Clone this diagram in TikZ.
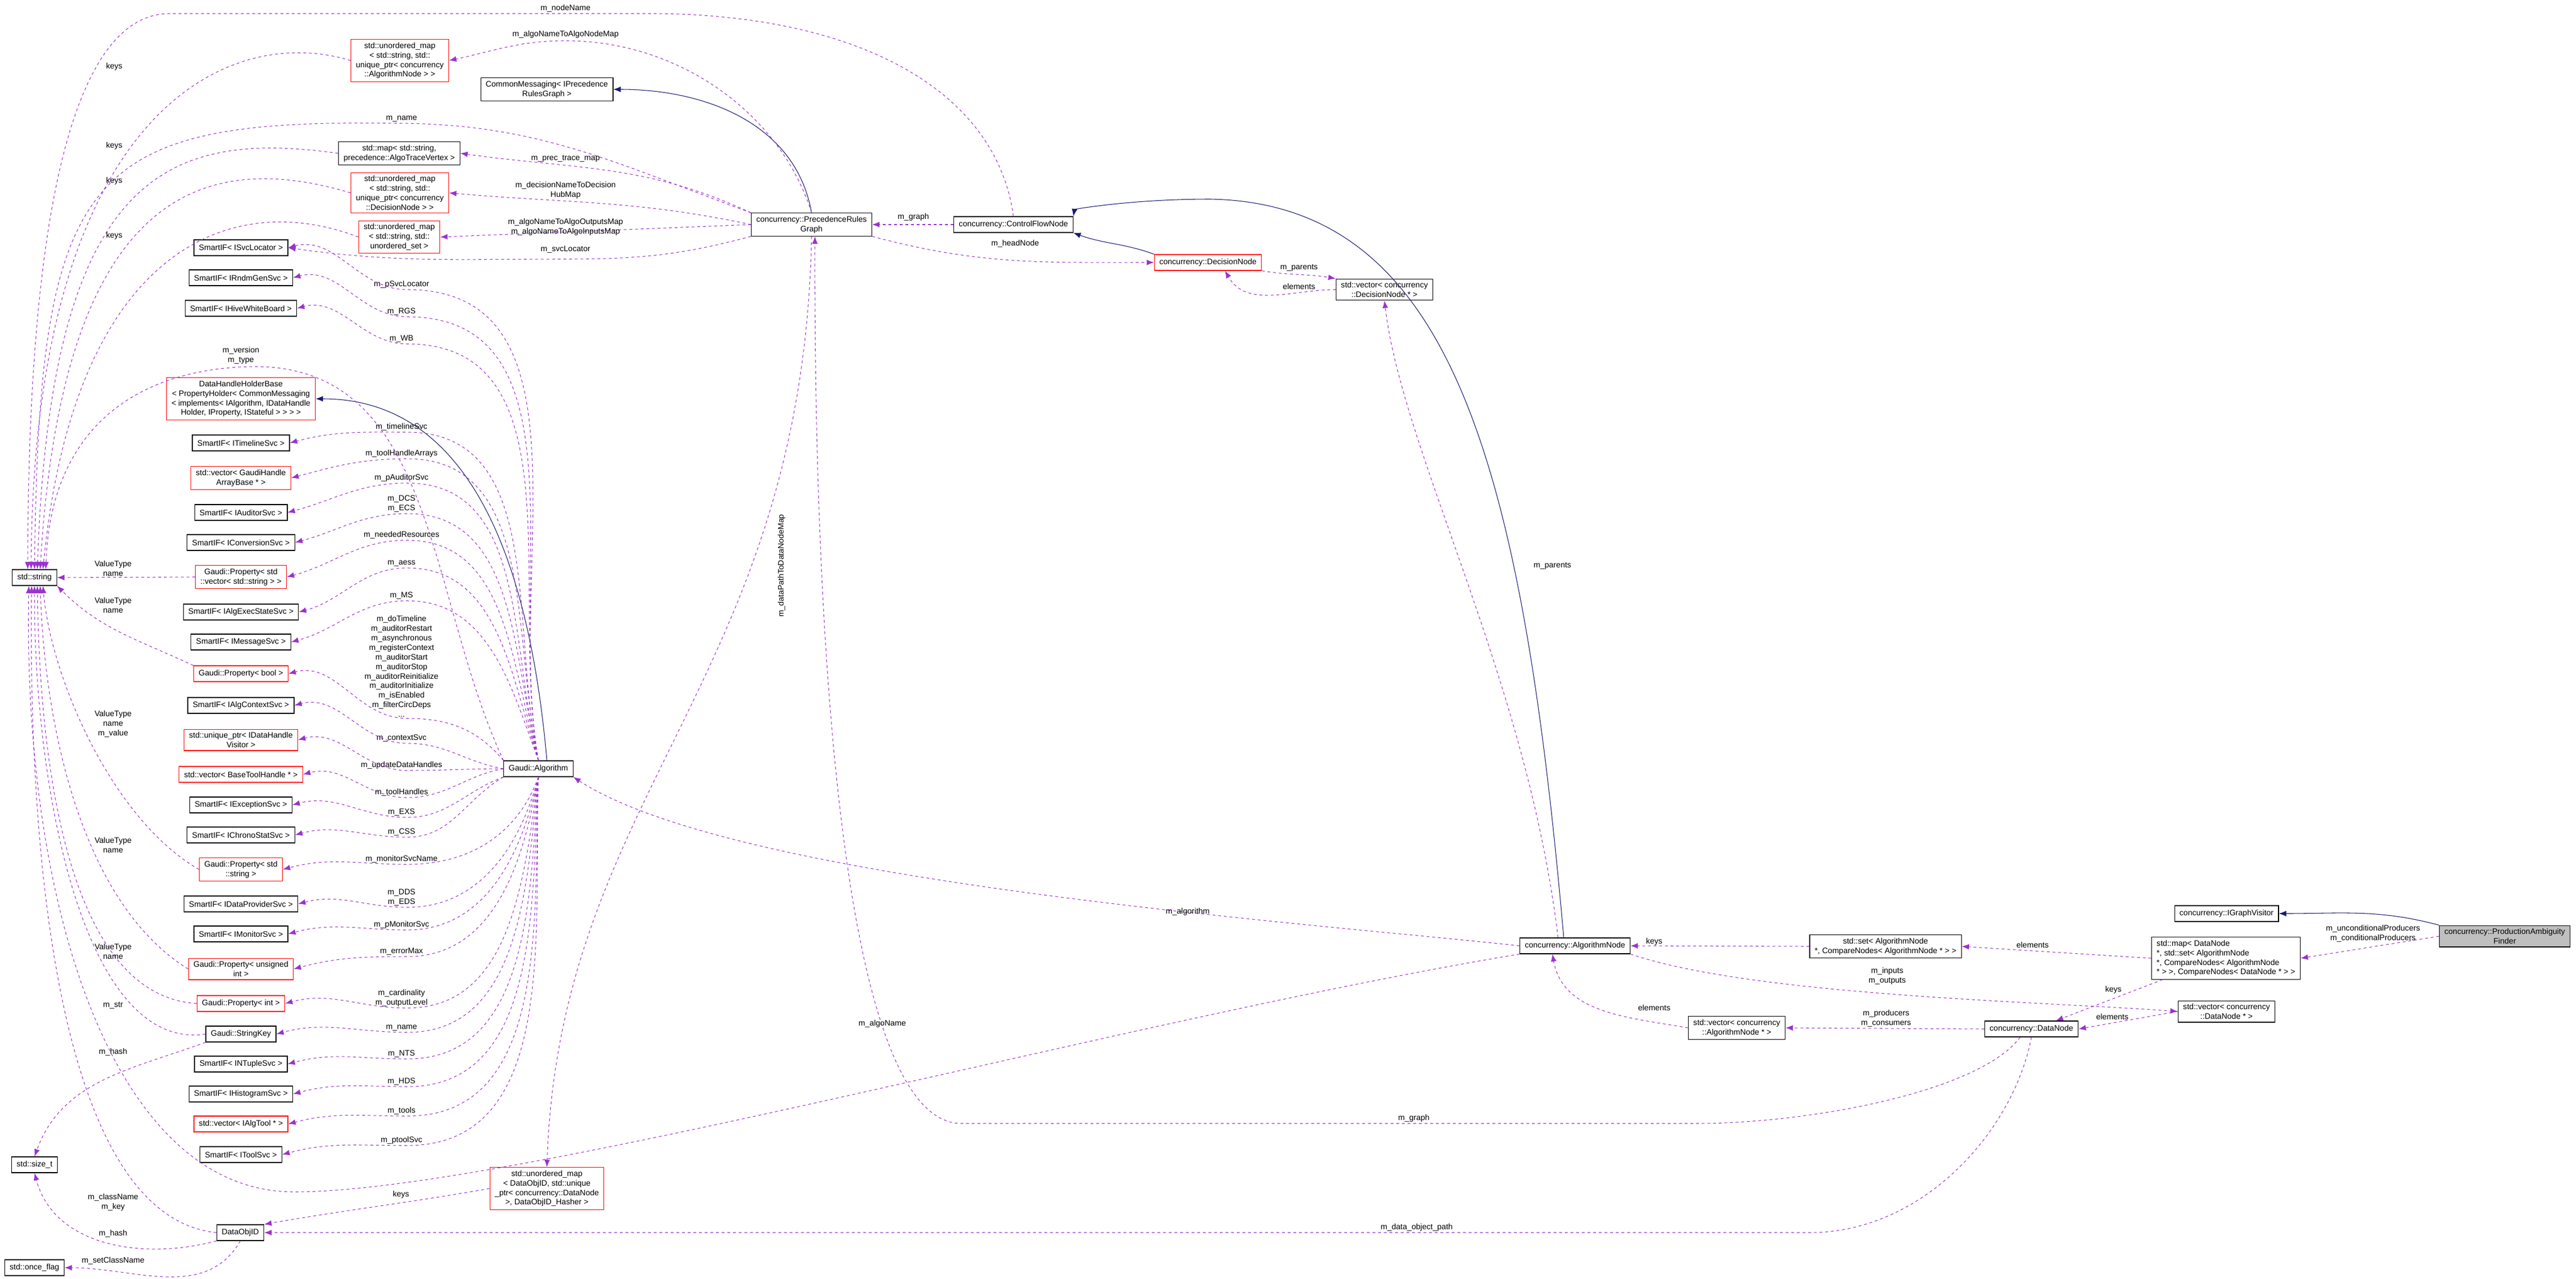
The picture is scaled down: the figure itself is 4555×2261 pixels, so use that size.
\documentclass[tikz,border=0pt]{standalone}
\usepackage{fontspec}
\setmainfont{Liberation Sans}
\usepackage{tikz}
\usetikzlibrary{positioning}
\usetikzlibrary{arrows.meta}
\usetikzlibrary{calc}
\definecolor{memcol}{RGB}{154,50,205}
\definecolor{inhcol}{RGB}{25,25,112}
\begin{document}
\begin{tikzpicture}[x=0.01cm,y=-0.01cm,font=\fontsize{4}{4.8}\selectfont]
\tikzset{cls/.style={rectangle,draw=black,line width=0.35pt,align=center,inner xsep=2.5pt,inner ysep=1.5pt,minimum height=0.28cm}}
\tikzset{clsred/.style={cls,draw=red}}
\tikzset{clsmain/.style={cls,fill=black!25}}
\tikzset{member/.style={draw=memcol,line width=0.3pt,dash pattern=on 0.05cm off 0.05cm,-{Latex[length=0.13cm,width=0.1cm]}}}
\tikzset{inherit/.style={draw=inhcol,line width=0.3pt,-{Latex[length=0.13cm,width=0.1cm]}}}
\tikzset{lbl/.style={inner sep=0.5pt,align=center}}
\useasboundingbox (0,0) rectangle (4555,2261);
% left column
\node[cls] (str) at (61,1021) {std::string};
\node[cls] (sizet) at (61,2059) {std::size\_t};
\node[cls] (oncef) at (61,2241) {std::once\_flag};
\node[cls] (objid) at (425,2179) {DataObjID};
% middle column
\node[clsred] (umapalgo) at (707,107) {std::unordered\_map\\\textless{} std::string, std::\\unique\_ptr\textless{} concurrency\\::AlgorithmNode \textgreater{} \textgreater};
\node[cls] (common) at (967,158) {CommonMessaging\textless{} IPrecedence\\RulesGraph \textgreater};
\node[cls] (maptrace) at (706,271) {std::map\textless{} std::string,\\precedence::AlgoTraceVertex \textgreater};
\node[clsred] (umapdec) at (707,341) {std::unordered\_map\\\textless{} std::string, std::\\unique\_ptr\textless{} concurrency\\::DecisionNode \textgreater{} \textgreater};
\node[clsred] (umapset) at (706,419) {std::unordered\_map\\\textless{} std::string, std::\\unordered\_set \textgreater};
\node[cls] (svcloc) at (426,438) {SmartIF\textless{} ISvcLocator \textgreater};
\node[cls] (rndm) at (426,491) {SmartIF\textless{} IRndmGenSvc \textgreater};
\node[cls] (hive) at (426,545) {SmartIF\textless{} IHiveWhiteBoard \textgreater};
\node[clsred] (dhhb) at (426,705) {DataHandleHolderBase\\\textless{} PropertyHolder\textless{} CommonMessaging\\\textless{} implements\textless{} IAlgorithm, IDataHandle\\Holder, IProperty, IStateful \textgreater{} \textgreater{} \textgreater{} \textgreater};
\node[cls] (timeline) at (426,783) {SmartIF\textless{} ITimelineSvc \textgreater};
\node[clsred] (gh) at (426,845) {std::vector\textless{} GaudiHandle\\ArrayBase * \textgreater};
\node[cls] (auditor) at (426,906) {SmartIF\textless{} IAuditorSvc \textgreater};
\node[cls] (conv) at (426,959) {SmartIF\textless{} IConversionSvc \textgreater};
\node[clsred] (pvs) at (426,1020) {Gaudi::Property\textless{} std\\::vector\textless{} std::string \textgreater{} \textgreater};
\node[cls] (aess) at (426,1082) {SmartIF\textless{} IAlgExecStateSvc \textgreater};
\node[cls] (msg) at (426,1135) {SmartIF\textless{} IMessageSvc \textgreater};
\node[clsred] (pbool) at (426,1191) {Gaudi::Property\textless{} bool \textgreater};
\node[cls] (algctx) at (426,1247) {SmartIF\textless{} IAlgContextSvc \textgreater};
\node[clsred] (udhv) at (426,1308) {std::unique\_ptr\textless{} IDataHandle\\Visitor \textgreater};
\node[clsred] (vbt) at (426,1369) {std::vector\textless{} BaseToolHandle * \textgreater};
\node[cls] (exc) at (426,1423) {SmartIF\textless{} IExceptionSvc \textgreater};
\node[cls] (chrono) at (426,1476) {SmartIF\textless{} IChronoStatSvc \textgreater};
\node[clsred] (pstr) at (426,1537) {Gaudi::Property\textless{} std\\::string \textgreater};
\node[cls] (dprov) at (426,1598) {SmartIF\textless{} IDataProviderSvc \textgreater};
\node[cls] (mon) at (426,1651) {SmartIF\textless{} IMonitorSvc \textgreater};
\node[clsred] (puint) at (426,1713) {Gaudi::Property\textless{} unsigned\\int \textgreater};
\node[clsred] (pint) at (426,1774) {Gaudi::Property\textless{} int \textgreater};
\node[cls] (skey) at (426,1828) {Gaudi::StringKey};
\node[cls] (ntuple) at (426,1881) {SmartIF\textless{} INTupleSvc \textgreater};
\node[cls] (hist) at (426,1934) {SmartIF\textless{} IHistogramSvc \textgreater};
\node[clsred] (vat) at (426,1987) {std::vector\textless{} IAlgTool * \textgreater};
\node[cls] (tsvc) at (426,2041) {SmartIF\textless{} IToolSvc \textgreater};
\node[cls] (alg) at (952,1359) {Gaudi::Algorithm};
\node[clsred] (umapdo) at (967,2101) {std::unordered\_map\\\textless{} DataObjID, std::unique\\\_ptr\textless{} concurrency::DataNode\\\textgreater, DataObjID\_Hasher \textgreater};
% upper right
\node[cls] (prec) at (1435,397) {concurrency::PrecedenceRules\\Graph};
\node[cls] (cfn) at (1792,397) {concurrency::ControlFlowNode};
\node[clsred] (decnode) at (2136,464) {concurrency::DecisionNode};
\node[cls] (vecdec) at (2448,512) {std::vector\textless{} concurrency\\::DecisionNode * \textgreater};
% lower right
\node[cls] (algnode) at (2785,1672) {concurrency::AlgorithmNode};
\node[cls] (setalg) at (3334,1673) {std::set\textless{} AlgorithmNode\\*, CompareNodes\textless{} AlgorithmNode * \textgreater{} \textgreater};
\node[cls,align=left] (mapdn) at (3936,1694) {std::map\textless{} DataNode\\*, std::set\textless{} AlgorithmNode\\*, CompareNodes\textless{} AlgorithmNode\\* \textgreater{} \textgreater, CompareNodes\textless{} DataNode * \textgreater{} \textgreater};
\node[cls] (igv) at (3937,1615) {concurrency::IGraphVisitor};
\node[clsmain] (paf) at (4429,1655) {concurrency::ProductionAmbiguity\\Finder};
\node[cls] (vecdn) at (3937,1788) {std::vector\textless{} concurrency\\::DataNode * \textgreater};
\node[cls] (vecalg) at (3071,1817) {std::vector\textless{} concurrency\\::AlgorithmNode * \textgreater};
\node[cls] (datanode) at (3592,1819) {concurrency::DataNode};
% inheritance
\draw[inherit] (prec.north) to[out=100,in=0] (common.east);
\draw[inherit] ($(alg.north)+(15,0)$) to[out=95,in=0] (dhhb.east);
\draw[inherit] (decnode.north west) to[out=160,in=-20] (cfn.south east);
\draw[inherit] ($(algnode.north)+(-20,0)$) .. controls (2690,800) and (2560,360) .. (2140,352) .. controls (2000,352) and (1900,370) .. (cfn.north east);
\draw[inherit] (paf.north west) to[out=165,in=0] (igv.east);
% Gaudi::Algorithm members
\foreach \t/\vy/\s/\o/\lab in {
  svcloc/512/north/100/{m\_pSvcLocator}, rndm/560/north/100/{m\_RGS}, hive/608/north/100/{m\_WB},
  timeline/764/north/102/{m\_timelineSvc}, gh/811/north/102/{m\_toolHandleArrays},
  auditor/854/north/104/{m\_pAuditorSvc}, conv/908/north/104/{m\_DCS\\m\_ECS},
  pvs/955/north/106/{m\_neededResources}, aess/1004/north/108/{m\_aess}, msg/1062/north/110/{m\_MS},
  pbool/1270/north west/130/{m\_doTimeline\\m\_auditorRestart\\m\_asynchronous\\m\_registerContext\\m\_auditorStart\\m\_auditorStop\\m\_auditorReinitialize\\m\_auditorInitialize\\m\_isEnabled\\m\_filterCircDeps\\...},
  algctx/1314/west/170/{m\_contextSvc}, udhv/1362/west/180/{m\_updateDataHandles},
  vbt/1410/west/190/{m\_toolHandles}, exc/1445/south west/200/{m\_EXS}, chrono/1480/south west/210/{m\_CSS},
  pstr/1528/south/250/{m\_monitorSvcName}, dprov/1604/south/255/{m\_DDS\\m\_EDS},
  mon/1644/south/258/{m\_pMonitorSvc}, puint/1691/south/260/{m\_errorMax},
  pint/1782/south/262/{m\_cardinality\\m\_outputLevel}, skey/1825/south/264/{m\_name},
  ntuple/1872/south/266/{m\_NTS}, hist/1921/south/267/{m\_HDS}, vat/1973/south/268/{m\_tools},
  tsvc/2025/south/268/{m\_ptoolSvc}}
{
  \node[lbl,anchor=south] (l\t) at (710,\vy) {\lab};
  \draw[member] (alg.\s) to[out=\o,in=0] (720,\vy) to[out=180,in=15] (\t.east);
}
% std::string members
\draw[member] (cfn.north) .. controls (1760,150) and (1500,24) .. (1150,24) -- (300,24) .. controls (150,24) and (50,300) .. ($(str.north)+(-12,0)$);
\node[lbl,anchor=south] (lnodename) at (1000,24) {m\_nodeName};
\draw[member] (umapalgo.west) .. controls (400,40) and (60,200) .. ($(str.north)+(-6,0)$);
\node[lbl] (lkeys1) at (202,118) {keys};
\draw[member] (prec.north west) to[out=160,in=0] (700,218) .. controls (150,210) and (70,300) .. (str.north);
\node[lbl,anchor=south] (lname) at (710,218) {m\_name};
\draw[member] (maptrace.west) .. controls (300,230) and (90,300) .. ($(str.north)+(5,0)$);
\node[lbl] (lkeys2) at (202,258) {keys};
\draw[member] (umapdec.west) .. controls (350,260) and (110,350) .. ($(str.north)+(10,0)$);
\node[lbl] (lkeys3) at (202,320) {keys};
\draw[member] (umapset.west) .. controls (400,330) and (130,450) .. ($(str.north)+(15,0)$);
\node[lbl] (lkeys4) at (202,417) {keys};
\draw[member] (alg.north west) to[out=115,in=0] (450,648) .. controls (250,650) and (90,750) .. ($(str.north)+(20,0)$);
\node[lbl,anchor=south] (lversion) at (426,646) {m\_version\\m\_type};
\draw[member] (pvs.west) -- (str.east);
\node[lbl,anchor=south] (lvt1) at (200,1021) {ValueType\\name};
\draw[member] (pbool.north west) to[out=155,in=-45] (str.south east);
\node[lbl] (lvt2) at (200,1070) {ValueType\\name};
\draw[member] (pstr.west) .. controls (200,1450) and (90,1200) .. ($(str.south)+(15,0)$);
\node[lbl] (lvt3) at (200,1280) {ValueType\\name\\m\_value};
\draw[member] (puint.west) .. controls (150,1600) and (80,1300) .. ($(str.south)+(10,0)$);
\node[lbl] (lvt4) at (200,1494) {ValueType\\name};
\draw[member] (pint.west) .. controls (120,1760) and (70,1350) .. ($(str.south)+(5,0)$);
\node[lbl] (lvt5) at (200,1682) {ValueType\\name};
\draw[member] (skey.west) .. controls (150,1860) and (60,1400) .. (str.south);
\node[lbl] (lstr) at (200,1777) {m\_str};
\draw[member] (skey.south west) to[out=200,in=70] (sizet.north);
\node[lbl] (lhash1) at (200,1860) {m\_hash};
\draw[member] (objid.west) .. controls (100,2150) and (50,1500) .. ($(str.south)+(-5,0)$);
\node[lbl] (lclassname) at (200,2125) {m\_className\\m\_key};
\draw[member] (objid.south west) to[out=195,in=-75] (sizet.south);
\node[lbl] (lhash2) at (200,2181) {m\_hash};
\draw[member] (objid.south) to[out=-120,in=0] (oncef.east);
\node[lbl] (lsetclass) at (200,2229) {m\_setClassName};
\draw[member] (algnode.south west) .. controls (2000,1800) and (900,2107) .. (520,2107) .. controls (200,2107) and (40,1600) .. ($(str.south)+(-10,0)$);
\node[lbl] (lalgoname) at (1560,1810) {m\_algoName};
% PrecedenceRulesGraph members
\draw[member] (prec.north) .. controls (1380,200) and (1200,72) .. (1000,72) to[out=180,in=12] (umapalgo.east);
\node[lbl,anchor=south] (lalgomap) at (1000,70) {m\_algoNameToAlgoNodeMap};
\draw[member] (prec.north west) to[out=155,in=-8] (maptrace.east);
\node[lbl] (lprec) at (1000,280) {m\_prec\_trace\_map};
\draw[member] (prec.west) to[out=168,in=-5] (umapdec.east);
\node[lbl] (ldecmap) at (1000,336) {m\_decisionNameToDecision\\HubMap};
\draw[member] (prec.west) -- (umapset.east);
\node[lbl] (liomap) at (1000,401) {m\_algoNameToAlgoOutputsMap\\m\_algoNameToAlgoInputsMap};
\draw[member] (prec.south west) to[out=195,in=0] (1000,458) to[out=180,in=-8] (svcloc.east);
\node[lbl] (lsvcloc) at (1000,441) {m\_svcLocator};
\draw[member] (prec.south) .. controls (1420,1200) and (990,1400) .. (umapdo.north);
\node[lbl,rotate=90] (ldatapath) at (1382,1000) {m\_dataPathToDataNodeMap};
\draw[member] (cfn.west) -- (prec.east);
\node[lbl,anchor=south] (lgraph1) at (1615,393) {m\_graph};
\draw[member] (prec.south east) to[out=-15,in=180] (decnode.west);
\node[lbl] (lhead) at (1795,431) {m\_headNode};
\draw[member] (decnode.south east) to[out=-10,in=170] (vecdec.north west);
\node[lbl] (lparents1) at (2297,473) {m\_parents};
\draw[member] (vecdec.west) to[out=180,in=-60] ($(decnode.south)+(30,0)$);
\node[lbl] (lelem1) at (2297,506) {elements};
\draw[member] ($(algnode.north)+(-30,0)$) .. controls (2700,1200) and (2480,800) .. (vecdec.south);
\node[lbl] (lparents2) at (2745,1000) {m\_parents};
% lower right members
\draw[member] (algnode.west) .. controls (2300,1630) and (1300,1560) .. (alg.south east);
\node[lbl] (lalgorithm) at (2100,1612) {m\_algorithm};
\draw[member] (setalg.west) -- (algnode.east);
\node[lbl] (lkeys5) at (2925,1665) {keys};
\draw[member] (mapdn.west) -- (setalg.east);
\node[lbl] (lelem2) at (3594,1670) {elements};
\draw[member] (paf.west) -- (mapdn.east);
\node[lbl] (lprod) at (4196,1650) {m\_unconditionalProducers\\m\_conditionalProducers};
\draw[member] ($(mapdn.south west)+(20,0)$) -- ($(datanode.north east)+(-40,0)$);
\node[lbl] (lkeys6) at (3737,1750) {keys};
\draw[member] (algnode.south east) .. controls (3100,1760) and (3600,1770) .. (vecdn.west);
\node[lbl] (linputs) at (3337,1725) {m\_inputs\\m\_outputs};
\draw[member] (vecdn.west) -- (datanode.east);
\node[lbl] (lelem3) at (3735,1797) {elements};
\draw[member] (datanode.west) -- (vecalg.east);
\node[lbl] (lprodcons) at (3335,1800) {m\_producers\\m\_consumers};
\draw[member] (vecalg.west) to[out=170,in=-80] ($(algnode.south)+(-40,0)$);
\node[lbl] (lelem4) at (2925,1781) {elements};
\draw[member] ($(datanode.south)+(-20,0)$) .. controls (3500,1930) and (3200,1986) .. (3000,1986) -- (1700,1986) .. controls (1450,1986) and (1440,800) .. ($(prec.south)+(6,0)$);
\node[lbl,anchor=south] (lgraph2) at (2500,1986) {m\_graph};
\draw[member] (datanode.south) .. controls (3560,2000) and (3400,2179) .. (3200,2179) -- (objid.east);
\node[lbl,anchor=south] (ldop) at (2505,2179) {m\_data\_object\_path};
\draw[member] (umapdo.west) to[out=190,in=10] (objid.north east);
\node[lbl] (lkeys7) at (709,2112) {keys};
\end{tikzpicture}
\end{document}
